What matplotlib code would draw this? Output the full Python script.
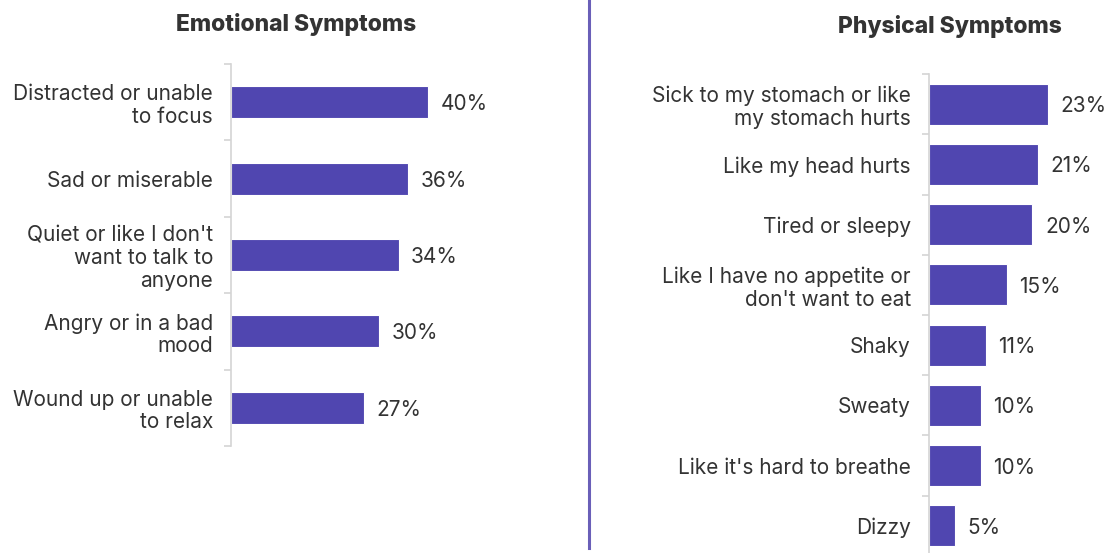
import numpy as np
import matplotlib as mpl
mpl.use('Agg')
import matplotlib.pyplot as plt

# data
emo_labels = ['Distracted or unable\nto focus', 'Sad or miserable',
              "Quiet or like I don't\nwant to talk to\nanyone", 'Angry or in a bad\nmood',
              'Wound up or unable\nto relax']
emo_values = [40, 36, 34, 30, 27]

phys_labels = ['Sick to my stomach or like\nmy stomach hurts', 'Like my head hurts',
               'Tired or sleepy', "Like I have no appetite or\ndon't want to eat",
               'Shaky', 'Sweaty', "Like it's hard to breathe", 'Dizzy']
phys_values = [23, 21, 20, 15, 11, 10, 10, 5]

titles = ['Emotional Symptoms', 'Physical Symptoms']

BAR = '#5046b0'
TXT = '#333333'
SPINE = '#d4d4d4'
W, H = 1105, 553

plt.rcParams['font.family'] = ['Inter', 'DejaVu Sans']

fig = plt.figure(figsize=(W / 100, H / 100), dpi=100)


def px_axes(x0, y0, x1, y1):
    # pixel box (top-left origin) -> figure fraction
    return fig.add_axes([x0 / W, 1 - y1 / H, (x1 - x0) / W, (y1 - y0) / H])


def draw_panel(ax, labels, values, height, xmax, fontsize):
    n = len(values)
    y = np.arange(n)
    ax.barh(y, values, height=height, color=BAR, edgecolor='#ffffff', linewidth=0.8)
    ax.set_ylim(n - 0.5, -0.5)
    ax.set_xlim(0, xmax)
    ax.set_yticks(y)
    ax.set_yticklabels(labels, fontsize=fontsize, color=TXT, linespacing=1.15)
    ax.set_yticks(np.arange(n + 1) - 0.5, minor=True)
    ax.tick_params(axis='y', which='major', length=0, pad=13)
    ax.tick_params(axis='y', which='minor', length=5, color=SPINE, width=1.2)
    ax.set_xticks([])
    for s in ['top', 'right', 'bottom']:
        ax.spines[s].set_visible(False)
    ax.spines['left'].set_color(SPINE)
    ax.spines['left'].set_linewidth(1.2)
    # value labels, digits centred on the bar
    for yi, v in zip(y, values):
        ax.annotate(f'{v}%', (v, yi), xytext=(9, -1.5), textcoords='offset points',
                    va='center', ha='left', fontsize=fontsize, color=TXT,
                    annotation_clip=False)


ax1 = px_axes(231, 64, 231 + 50 * 4.93, 446)
draw_panel(ax1, emo_labels, emo_values, 0.42, 50, 15)

ax2 = px_axes(929, 74, 929 + 30 * 5.17, 556)
draw_panel(ax2, phys_labels, phys_values, 0.68, 30, 15)

fig.text(296 / W, 1 - 25 / H, titles[0], ha='center', va='center',
         fontsize=16.5, fontweight='heavy', color=TXT)
fig.text(950 / W, 1 - 27 / H, titles[1], ha='center', va='center',
         fontsize=16.5, fontweight='heavy', color=TXT)

# divider between the two panels
fig.add_artist(plt.Line2D([589 / W, 589 / W], [1 - 548 / H, 1.0],
                          color='#6a5fb8', linewidth=2.2))

fig.savefig('out.png', dpi=100)
